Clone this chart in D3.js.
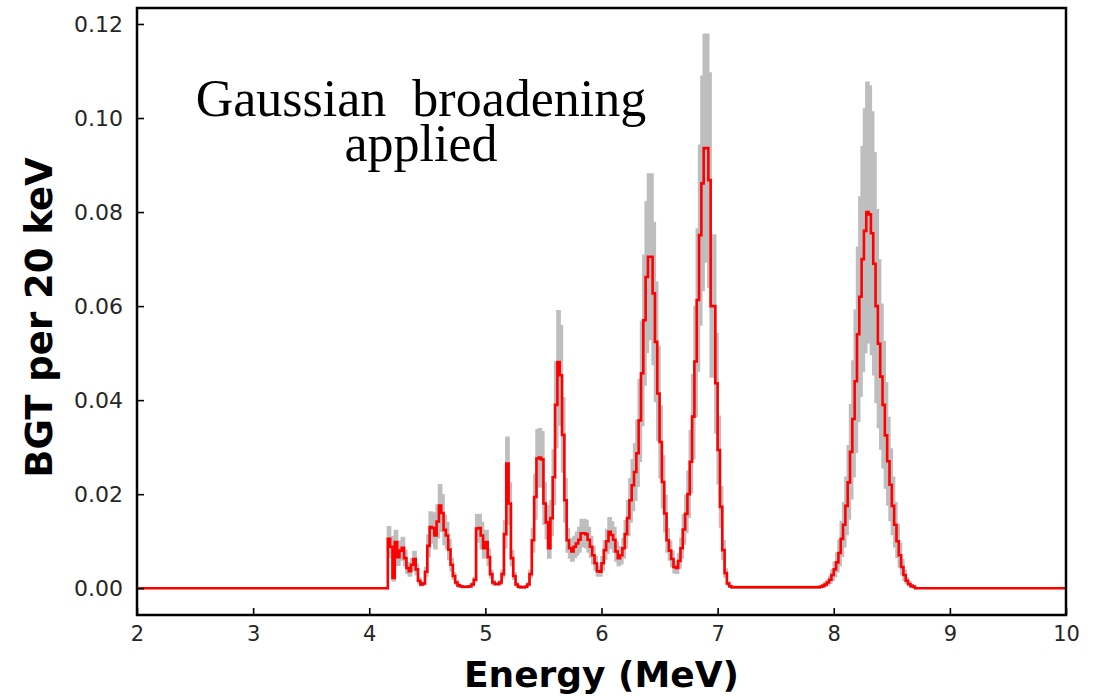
<!DOCTYPE html>
<html>
<head>
<meta charset="utf-8">
<script src="https://cdn.jsdelivr.net/npm/d3@7/dist/d3.min.js"></script>
<style>
  body { margin: 0; background: #fff; }
  svg { display: block; }
</style>
</head>
<body>
<svg id="chart" width="1099" height="696"></svg>
<script>
// Histogram binning (MeV)
const binStart = 4.16;
const binWidth = 0.02;

// BGT per 20 keV bin, starting at binStart
const bgt = [
  0.0105, 0.0088, 0.0022, 0.0098, 0.0066, 0.0080, 0.0086, 0.0064, 0.0043, 0.0036,
  0.0050, 0.0062, 0.0040, 0.0016, 0.0008, 0.0010, 0.0035, 0.0090, 0.0130, 0.0128,
  0.0112, 0.0142, 0.0176, 0.0160, 0.0124, 0.0112, 0.0082, 0.0050, 0.0026, 0.0012,
  0.0006, 0.0004, 0.0003, 0.0003, 0.0003, 0.0004, 0.0008, 0.0018, 0.0127, 0.0128,
  0.0112, 0.0085, 0.0098, 0.0066, 0.0030, 0.0012, 0.0009, 0.0009, 0.0012, 0.0030,
  0.0115, 0.0265, 0.0180, 0.0064, 0.0026, 0.0008, 0.0003, 0.0002, 0.0002, 0.0003,
  0.0008, 0.0030, 0.0102, 0.0194, 0.0276, 0.0278, 0.0274, 0.0180, 0.0140, 0.0085,
  0.0149, 0.0236, 0.0390, 0.0481, 0.0453, 0.0326, 0.0187, 0.0102, 0.0085, 0.0078,
  0.0088, 0.0095, 0.0103, 0.0117, 0.0117, 0.0115, 0.0103, 0.0088, 0.0070, 0.0053,
  0.0036, 0.0035, 0.0053, 0.0081, 0.0100, 0.0120, 0.0113, 0.0103, 0.0078, 0.0064,
  0.0070, 0.0085, 0.0115, 0.0149, 0.0187, 0.0219, 0.0247, 0.0287, 0.0357, 0.0457,
  0.0570, 0.0662, 0.0705, 0.0705, 0.0627, 0.0524, 0.0414, 0.0311, 0.0226, 0.0159,
  0.0102, 0.0080, 0.0062, 0.0045, 0.0043, 0.0058, 0.0085, 0.0125, 0.0158, 0.0200,
  0.0269, 0.0365, 0.0482, 0.0613, 0.0751, 0.0861, 0.0936, 0.0936, 0.0868, 0.0600,
  0.0600, 0.0436, 0.0294, 0.0173, 0.0081, 0.0032, 0.0010, 0.0004,
  0.0002, 0.0002, 0.0002, 0.0002, 0.0002, 0.0002, 0.0002, 0.0002, 0.0002, 0.0002,
  0.0002, 0.0002, 0.0002, 0.0002, 0.0002, 0.0002, 0.0002, 0.0002, 0.0002, 0.0002,
  0.0002, 0.0002, 0.0002, 0.0002, 0.0002, 0.0002, 0.0002, 0.0002, 0.0002, 0.0002,
  0.0002, 0.0002, 0.0002, 0.0002, 0.0002, 0.0002, 0.0002, 0.0002,
  0.0003, 0.0005, 0.0008, 0.0012, 0.0018, 0.0028, 0.0040, 0.0055, 0.0075, 0.0105,
  0.0135, 0.0175, 0.0225, 0.0290, 0.0360, 0.0440, 0.0540, 0.0620, 0.0700, 0.0760,
  0.0800, 0.0795, 0.0755, 0.0690, 0.0600, 0.0520, 0.0450, 0.0390, 0.0325, 0.0270,
  0.0220, 0.0175, 0.0135, 0.0100, 0.0070, 0.0045, 0.0028, 0.0016, 0.0009, 0.0005,
  0.0003
];

// One-sigma uncertainty of each bin
const bgtErr = [
  0.0025, 0.0021, 0.0005, 0.0024, 0.0016, 0.0019, 0.0021, 0.0015, 0.0010, 0.0009,
  0.0012, 0.0015, 0.0010, 0.0004, 0.0002, 0.0002, 0.0008, 0.0022, 0.0031, 0.0031,
  0.0027, 0.0034, 0.0043, 0.0038, 0.0030, 0.0027, 0.0020, 0.0012, 0.0006, 0.0003,
  0.0002, 0.0001, 0.0001, 0.0001, 0.0001, 0.0001, 0.0002, 0.0004, 0.0028, 0.0028,
  0.0027, 0.0020, 0.0024, 0.0016, 0.0007, 0.0003, 0.0002, 0.0002, 0.0003, 0.0007,
  0.0028, 0.0055, 0.0043, 0.0015, 0.0006, 0.0002, 0.0001, 0.0001, 0.0001, 0.0001,
  0.0002, 0.0007, 0.0024, 0.0046, 0.0060, 0.0060, 0.0058, 0.0043, 0.0034, 0.0020,
  0.0036, 0.0057, 0.0090, 0.0108, 0.0105, 0.0078, 0.0045, 0.0024, 0.0020, 0.0019,
  0.0021, 0.0023, 0.0025, 0.0028, 0.0028, 0.0028, 0.0025, 0.0021, 0.0017, 0.0013,
  0.0009, 0.0008, 0.0013, 0.0019, 0.0024, 0.0029, 0.0027, 0.0025, 0.0019, 0.0015,
  0.0017, 0.0020, 0.0028, 0.0036, 0.0045, 0.0053, 0.0059, 0.0069, 0.0086, 0.0110,
  0.0137, 0.0159, 0.0175, 0.0175, 0.0150, 0.0126, 0.0099, 0.0075, 0.0054, 0.0038,
  0.0024, 0.0019, 0.0015, 0.0011, 0.0010, 0.0014, 0.0020, 0.0030, 0.0038, 0.0048,
  0.0065, 0.0088, 0.0116, 0.0150, 0.0190, 0.0227, 0.0241, 0.0241, 0.0227, 0.0150,
  0.0150, 0.0105, 0.0071, 0.0042, 0.0019, 0.0008, 0.0002, 0.0001,
  0.0001, 0.0001, 0.0001, 0.0001, 0.0001, 0.0001, 0.0001, 0.0001, 0.0001, 0.0001,
  0.0001, 0.0001, 0.0001, 0.0001, 0.0001, 0.0001, 0.0001, 0.0001, 0.0001, 0.0001,
  0.0001, 0.0001, 0.0001, 0.0001, 0.0001, 0.0001, 0.0001, 0.0001, 0.0001, 0.0001,
  0.0001, 0.0001, 0.0001, 0.0001, 0.0001, 0.0001, 0.0001, 0.0001,
  0.0001, 0.0002, 0.0003, 0.0004, 0.0006, 0.0010, 0.0014, 0.0019, 0.0026, 0.0036,
  0.0046, 0.0060, 0.0077, 0.0099, 0.0122, 0.0150, 0.0184, 0.0211, 0.0238, 0.0258,
  0.0275, 0.0272, 0.0257, 0.0235, 0.0204, 0.0177, 0.0153, 0.0133, 0.0111, 0.0092,
  0.0075, 0.0060, 0.0046, 0.0034, 0.0024, 0.0015, 0.0010, 0.0005, 0.0003, 0.0002,
  0.0001
];

// Axis settings
const xLimits = [2, 10];
const yLimits = [-0.0057, 0.1234];
const xTicks = [2, 3, 4, 5, 6, 7, 8, 9, 10];
const yTicks = [0.00, 0.02, 0.04, 0.06, 0.08, 0.10, 0.12];
const xLabel = "Energy (MeV)";
const yLabel = "BGT per 20 keV";
const noteLines = ["Gaussian  broadening", "applied"];

// Plot frame
const frame = { left: 137, right: 1066, top: 8, bottom: 615 };

const svg = d3.select("#chart");
const x = d3.scaleLinear().domain(xLimits).range([frame.left, frame.right]);
const y = d3.scaleLinear().domain(yLimits).range([frame.bottom, frame.top]);

svg.append("defs").append("clipPath").attr("id", "plot-clip")
  .append("rect")
  .attr("x", frame.left).attr("y", frame.top)
  .attr("width", frame.right - frame.left)
  .attr("height", frame.bottom - frame.top);

const bins = bgt.map((v, i) => ({ e: binStart + i * binWidth, v: v, err: bgtErr[i] }));
const binEnd = binStart + bgt.length * binWidth;

// Uncertainty band (stepped)
const bandPts = bins.map(b => ({ e: b.e, lo: b.v - b.err, hi: b.v + b.err }))
  .concat([{ e: binEnd, lo: 0, hi: 0 }]);
const band = d3.area()
  .curve(d3.curveStepAfter)
  .x(d => x(d.e))
  .y0(d => y(d.lo))
  .y1(d => y(d.hi));

const plot = svg.append("g").attr("clip-path", "url(#plot-clip)");

plot.append("path")
  .datum(bandPts)
  .attr("d", band)
  .attr("fill", "#bebebe")
  .attr("stroke", "#bebebe")
  .attr("stroke-width", 2.4)
  .attr("stroke-linejoin", "miter");

// Central spectrum (stepped)
const linePts = [{ e: xLimits[0], v: 0 }]
  .concat(bins.map(b => ({ e: b.e, v: b.v })))
  .concat([{ e: binEnd, v: 0 }, { e: xLimits[1], v: 0 }]);
const line = d3.line()
  .curve(d3.curveStepAfter)
  .x(d => x(d.e))
  .y(d => y(d.v));

plot.append("path")
  .datum(linePts)
  .attr("d", line)
  .attr("fill", "none")
  .attr("stroke", "#ff0000")
  .attr("stroke-width", 2.6)
  .attr("stroke-linejoin", "miter");

// Axes with inward ticks
const tickFont = "'DejaVu Sans', sans-serif";
const xAxis = d3.axisBottom(x).tickValues(xTicks).tickFormat(d3.format("d"))
  .tickSizeInner(-7).tickSizeOuter(0).tickPadding(11);
const gx = svg.append("g").attr("transform", `translate(0,${frame.bottom})`).call(xAxis);
gx.select(".domain").remove();
gx.selectAll(".tick line").attr("stroke", "#000").attr("stroke-width", 1.6);
gx.selectAll(".tick text")
  .attr("font-family", tickFont).attr("font-size", 21).attr("fill", "#262626");

const yAxis = d3.axisLeft(y).tickValues(yTicks).tickFormat(d3.format(".2f"))
  .tickSizeInner(-7).tickSizeOuter(0).tickPadding(14);
const gy = svg.append("g").attr("transform", `translate(${frame.left},0)`).call(yAxis);
gy.select(".domain").remove();
gy.selectAll(".tick line").attr("stroke", "#000").attr("stroke-width", 1.6);
gy.selectAll(".tick text")
  .attr("font-family", tickFont).attr("font-size", 22).attr("fill", "#262626");

// Frame
svg.append("rect")
  .attr("x", frame.left).attr("y", frame.top)
  .attr("width", frame.right - frame.left)
  .attr("height", frame.bottom - frame.top)
  .attr("fill", "none")
  .attr("stroke", "#000")
  .attr("stroke-width", 2.5);

// Axis titles
svg.append("text")
  .attr("x", (frame.left + frame.right) / 2)
  .attr("y", 687)
  .attr("text-anchor", "middle")
  .attr("font-family", tickFont)
  .attr("font-weight", "bold")
  .attr("font-size", 36)
  .attr("fill", "#000")
  .text(xLabel);

svg.append("text")
  .attr("transform", `translate(52,${(frame.top + frame.bottom) / 2 + 6}) rotate(-90)`)
  .attr("text-anchor", "middle")
  .attr("font-family", tickFont)
  .attr("font-weight", "bold")
  .attr("font-size", 37)
  .attr("fill", "#000")
  .text(yLabel);

// Annotation, one text element per line
noteLines.forEach((t, i) => {
  svg.append("text")
    .attr("x", 421)
    .attr("y", 116 + i * 45)
    .attr("text-anchor", "middle")
    .attr("font-family", "'Liberation Serif', serif")
    .attr("font-size", 52)
    .attr("fill", "#000")
    .style("white-space", "pre")
    .text(t);
});
</script>
</body>
</html>
